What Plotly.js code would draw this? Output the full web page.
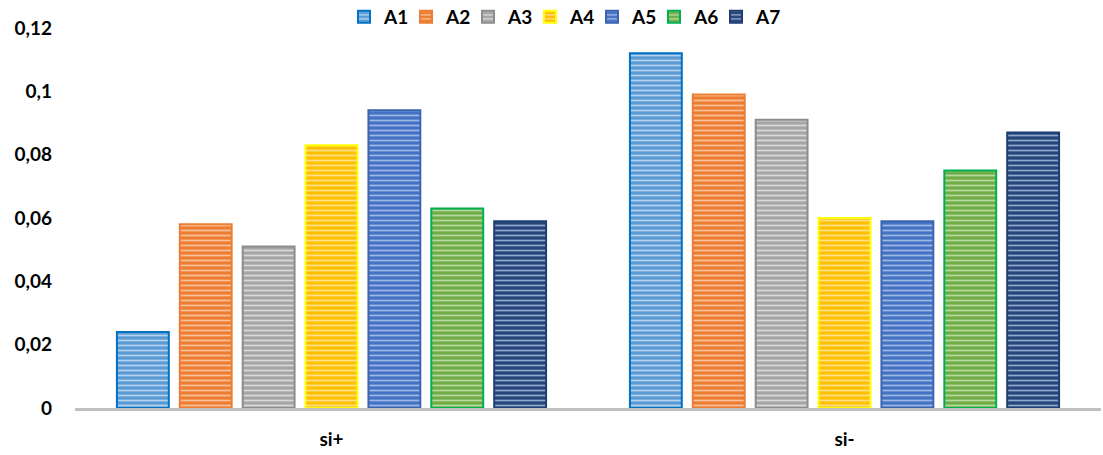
<!DOCTYPE html>
<html>
<head>
<meta charset="utf-8">
<script src="https://cdn.plot.ly/plotly-3.0.1.min.js"></script>
<style>html,body{margin:0;padding:0;background:#fff}#chart{width:1103px;height:455px}</style>
</head>
<body>
<div id="chart"></div>
<script>
const categories = ["si+", "si-"];
const seriesNames = ["A1", "A2", "A3", "A4", "A5", "A6", "A7"];
const A1 = [0.024, 0.112];
const A2 = [0.058, 0.099];
const A3 = [0.051, 0.091];
const A4 = [0.083, 0.060];
const A5 = [0.094, 0.059];
const A6 = [0.063, 0.075];
const A7 = [0.059, 0.087];
const yTickVals = [0, 0.02, 0.04, 0.06, 0.08, 0.1, 0.12];
const yTickText = ["0", "0,02", "0,04", "0,06", "0,08", "0,1", "0,12"];

const seriesValues = [A1, A2, A3, A4, A5, A6, A7];
const fills = ["#5b9bd5", "#ed7d31", "#a5a5a5", "#ffc000", "#4472c4", "#70ad47", "#264478"];
const stripes = ["#b4d2ef", "#f8c09b", "#d9d9d9", "#ffe08a", "#9fb7e6", "#b7d99d", "#8fa8cf"];
const borders = ["#0070c0", "#ed7d31", "#8c8c8c", "#ffff00", "#3a63b0", "#00b050", "#1f3f73"];

const traces = seriesNames.map((name, i) => ({
  type: "bar",
  name: name,
  x: categories,
  y: seriesValues[i],
  marker: {
    color: fills[i],
    line: {color: borders[i], width: 2},
    pattern: {shape: "-", bgcolor: fills[i], fgcolor: stripes[i], size: 5, solidity: 0.35, fillmode: "replace"}
  },
  hoverinfo: "x+y+name"
}));

const fam = "Lato, 'Open Sans', sans-serif";
const boldFont = {family: fam, size: 19, color: "#000", weight: "bold"};

const layout = {
  width: 1103,
  height: 455,
  margin: {l: 75, r: 2, t: 28, b: 47, autoexpand: false},
  paper_bgcolor: "#fff",
  plot_bgcolor: "#fff",
  font: {family: fam, size: 16, color: "#000"},
  barmode: "group",
  bargap: 0.142,
  bargroupgap: 0.175,
  showlegend: true,
  legend: {
    orientation: "h",
    x: (561 - 75) / 1026, xanchor: "center",
    y: 1.0 + 11 / 380, yanchor: "middle",
    font: boldFont,
    entrywidth: 17,
    entrywidthmode: "pixels",
    tracegroupgap: 0,
    traceorder: "normal"
  },
  xaxis: {
    type: "category",
    showgrid: false,
    showline: true,
    linecolor: "#bfbfbf",
    linewidth: 3,
    ticks: "",
    tickfont: boldFont,
    ticklabelstandoff: 12,
    zeroline: false
  },
  yaxis: {
    range: [0, 0.12],
    showgrid: false,
    showline: false,
    zeroline: false,
    tickmode: "array",
    tickvals: yTickVals,
    ticktext: yTickText,
    ticks: "",
    ticklabelstandoff: 22,
    tickfont: boldFont
  }
};

Plotly.newPlot("chart", traces, layout, {displayModeBar: false, staticPlot: true}).then(function () {
  document.querySelectorAll("#chart .legend .scrollbox").forEach(function (el) {
    el.removeAttribute("clip-path");
  });
});
</script>
</body>
</html>
